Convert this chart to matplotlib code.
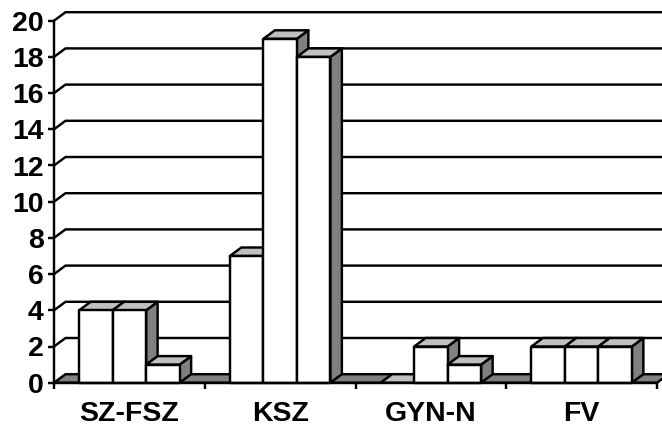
import matplotlib
matplotlib.use('Agg')
import matplotlib.pyplot as plt
from matplotlib.patches import Polygon

categories = ['SZ-FSZ', 'KSZ', 'GYN-N', 'FV']
series_a = [4, 7, 0, 2]
series_b = [4, 19, 2, 2]
series_c = [1, 18, 1, 2]
y_ticks = [0, 2, 4, 6, 8, 10, 12, 14, 16, 18, 20]

W, H = 662, 428
LEFT, RIGHT, BOTTOM, TOP = 54, 657, 382.7, 20.7   # plot front plane, pixels
bar_w = 1 / 4.5   # 3 bars + 150% gap
gap = 0.75 * bar_w
dx = 11.5 / ((RIGHT - LEFT) / len(categories))   # 3d depth in category units
dy = 8.5 / ((BOTTOM - TOP) / 20)                 # 3d depth in value units
LW = 1.75

plt.rcParams['font.family'] = ['Liberation Sans', 'DejaVu Sans']
plt.rcParams['font.weight'] = 'bold'

fig = plt.figure(figsize=(W / 100, H / 100), dpi=100)
ax = fig.add_axes([LEFT / W, (H - BOTTOM) / H, (RIGHT - LEFT) / W, (BOTTOM - TOP) / H])
ax.set_xlim(0, len(categories))
ax.set_ylim(0, 20)


def face(pts, color):
    ax.add_patch(Polygon(pts, closed=True, facecolor=color, edgecolor='black',
                         linewidth=LW, joinstyle='round', clip_on=False, zorder=3))


# back wall grid lines, with the short diagonal on the side wall
for v in y_ticks[1:]:
    ax.plot([0, dx, len(categories) + dx], [v, v + dy, v + dy], color='black',
            linewidth=LW, clip_on=False, zorder=1)

# floor
n = len(categories)
face([(0, 0), (dx, dy), (n + dx, dy), (n, 0)], '#808080')

# bars
for i in range(n):
    for j, vals in enumerate([series_a, series_b, series_c]):
        x0 = i + gap + j * bar_w
        x1 = x0 + bar_w
        v = vals[i]
        face([(x1, 0), (x1 + dx, dy), (x1 + dx, v + dy), (x1, v)], '#808080')
        face([(x0, v), (x0 + dx, v + dy), (x1 + dx, v + dy), (x1, v)], '#c0c0c0')
        if v > 0:
            face([(x0, 0), (x1, 0), (x1, v), (x0, v)], 'white')

for s in ['top', 'right']:
    ax.spines[s].set_visible(False)
for s in ['left', 'bottom']:
    ax.spines[s].set_linewidth(LW)
    ax.spines[s].set_zorder(4)

ax.set_yticks(y_ticks)
ax.set_yticklabels([str(v) for v in y_ticks])
ax.tick_params(axis='y', length=4.5, width=LW, pad=3, labelsize=20.5)
ax.set_xticks(range(n + 1))
ax.set_xticklabels([])
ax.set_xticks([i + 0.5 for i in range(n)], minor=True)
ax.set_xticklabels(categories, minor=True)
ax.tick_params(axis='x', which='major', length=4, width=LW)
ax.tick_params(axis='x', which='minor', length=0, pad=13.5, labelsize=20.5)

fig.savefig('out.png', dpi=100)
